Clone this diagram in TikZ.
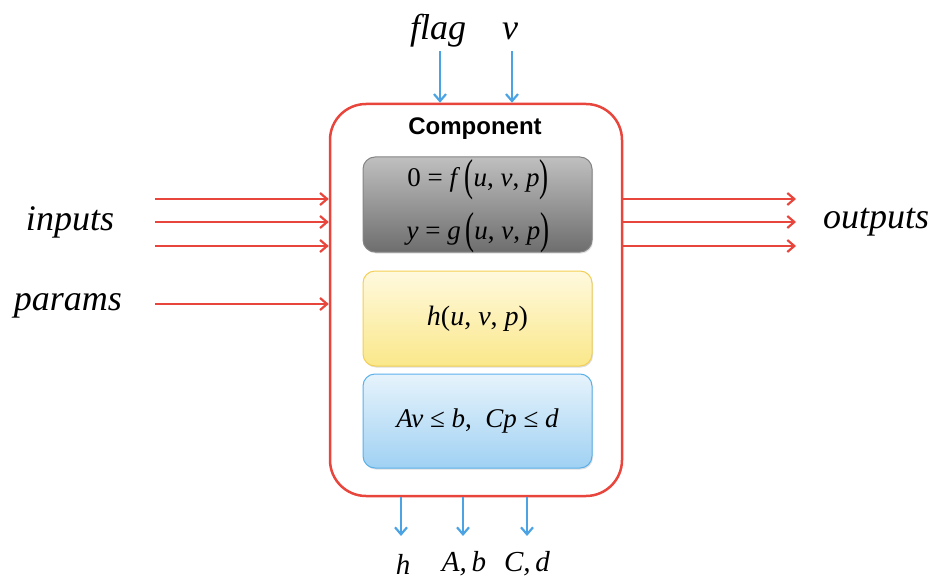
\documentclass[tikz,border=0pt]{standalone}
\usepackage{graphicx}
\usepackage{fontspec}
\setmainfont{Liberation Serif}
\newfontfamily\headfont{Liberation Sans}
\usetikzlibrary{arrows.meta,positioning,calc,shadows}
\definecolor{red1}{HTML}{E8453C}
\definecolor{blue1}{HTML}{4BA3E3}
\definecolor{grey1}{HTML}{858585}
\definecolor{yellow1}{HTML}{F3CF55}
\definecolor{yellow2}{HTML}{FAE88A}
\definecolor{yellow3}{HTML}{FFF9DE}
\definecolor{sky1}{HTML}{5BB0EA}
\newcommand{\bigpar}[1]{\raisebox{-0.17em}{\scalebox{1}[1.65]{#1}}}

\begin{document}
\begin{tikzpicture}[x=1pt,y=-1pt,
  redarrow/.style={red1, line width=2.3pt, -{Straight Barb[length=7pt,width=12pt,line width=2.2pt]}},
  bluearrow/.style={blue1, line width=2.3pt, -{Straight Barb[length=7pt,width=12pt,line width=2.2pt]}},
  lbl/.style={font=\fontsize{36}{40}\selectfont\itshape},
  sublbl/.style={font=\fontsize{29}{32}\selectfont\itshape, inner sep=0pt},
  eqn/.style={font=\fontsize{27}{30}\selectfont},
  part/.style={rounded corners=12pt, minimum width=229pt, minimum height=95pt, line width=1pt,
    drop shadow={opacity=0.25, shadow xshift=1pt, shadow yshift=-1.5pt}}]
  \useasboundingbox (0,0) rectangle (933,580);
  % the component and its three parts
  \node[draw=red1, line width=2.5pt, rounded corners=36pt, minimum width=292pt, minimum height=392pt] (comp) at (476,300) {};
  \node[font=\headfont\bfseries\fontsize{24}{28}\selectfont] (title) at (475,129) {Component};
  \node[part, draw=grey1, top color=black!25, bottom color=black!57] (dyn) at (477.5,204.5) {};
  \node[eqn] (feq) at (478,180) {0 = \textit{f}\,\bigpar{(}\textit{u}, \textit{v}, \textit{p}\bigpar{)}};
  \node[eqn] (geq) at (478,233) {\textit{y} = \textit{g}\,\bigpar{(}\textit{u}, \textit{v}, \textit{p}\bigpar{)}};
  \node[part, draw=yellow1, top color=yellow3, bottom color=yellow2] (obj) at (477.5,318.5) {\fontsize{28}{30}\selectfont\textit{h}(\textit{u}, \textit{v}, \textit{p})};
  \node[part, draw=sky1, top color=sky1!15, bottom color=sky1!58, minimum height=94pt] (cons) at (477.5,421) {\fontsize{27}{30}\selectfont\textit{Av} ≤ \textit{b}, \ \textit{Cp} ≤ \textit{d}};
  % labels
  \node[lbl] (flag) at (438,31) {flag};
  \node[lbl] (vin) at (510,31) {v};
  \node[lbl] (inputs) at (70,222) {inputs};
  \node[lbl] (params) at (68,306) {params};
  \node[lbl] (outputs) at (876,222) {outputs};
  \node[sublbl] (hout) at (403,564) {h};
  \node[sublbl] (about) at (464,564) {A,\,b};
  \node[sublbl] (cdout) at (527,564) {C,\,d};
  % arrows in and out
  \coordinate (flagtail) at (440,51); \coordinate (vtail) at (512,51);
  \draw[bluearrow] (flagtail) -- (flagtail |- comp.north); \draw[bluearrow] (vtail) -- (vtail |- comp.north);
  \foreach \y/\n in {199/1,222/2,246/3} {
    \coordinate (in\n) at (155,\y); \coordinate (out\n) at (796,\y);
    \draw[redarrow] (in\n) -- (in\n -| comp.west);
    \draw[redarrow] (out\n -| comp.east) -- (out\n);
  }
  \coordinate (par) at (155,304);
  \draw[redarrow] (par) -- (par -| comp.west);
  \foreach \x/\n in {401/h,463/ab,527/cd} {
    \coordinate (tip\n) at (\x,536);
    \draw[bluearrow] (tip\n |- comp.south) -- (tip\n);
  }
\end{tikzpicture}
\end{document}
